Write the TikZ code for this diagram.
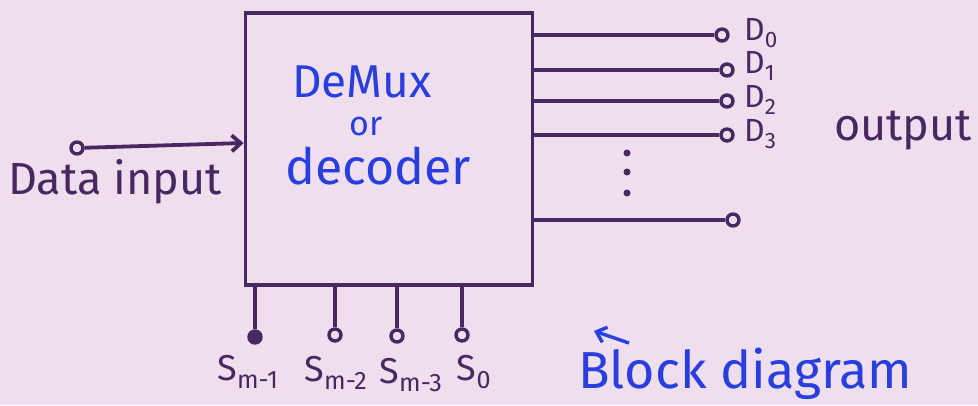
\documentclass[tikz,border=0pt]{standalone}
\usepackage{fontspec}
\setmainfont{Fira Sans}
\usetikzlibrary{arrows.meta}
\definecolor{bg}{RGB}{238,222,238}
\definecolor{ink}{RGB}{72,40,96}
\definecolor{pen}{RGB}{40,62,222}
\tikzset{
  wire/.style={draw=ink, line width=3.8pt},
  term/.style={circle, draw=ink, line width=3.4pt, fill=bg, inner sep=0pt, minimum size=12pt},
  lbl/.style={text=ink, inner sep=0pt, font=\fontsize{45}{48}\selectfont},
  blu/.style={text=pen, inner sep=0pt, font=\fontsize{48}{52}\selectfont},
}
\begin{document}
\begin{tikzpicture}[x=1pt,y=-1pt]
\fill[bg] (0,0) rectangle (978,405);
\useasboundingbox (0,0) rectangle (978,405);
% block
\node[draw=ink, line width=3.8pt, minimum width=287pt, minimum height=272pt, inner sep=0pt] (box) at (389,149) {};
\node[blu, anchor=base, font=\fontsize{46}{50}\selectfont] (t1) at (362,97) {DeMux};
\node[blu, anchor=base, font=\fontsize{34}{36}\selectfont] (t2) at (366,135) {or};
\node[blu, anchor=base, font=\fontsize{50}{54}\selectfont] (t3) at (378,184) {decoder};
% data input
\node[term] (din) at (77,148) {};
\coordinate (dinend) at (box.west |- 0,143);
\draw[wire, -{Straight Barb[length=9pt,width=16pt]}] (din) -- (dinend);
\node[lbl, anchor=base west] (dil) at (8,194) {Data input};
% outputs
\node[term] (o0) at (722,35) {};
\node[term] (o1) at (727,70) {};
\node[term] (o2) at (727,101) {};
\node[term] (o3) at (727,135) {};
\node[term] (on) at (733,220) {};
\draw[wire] (box.east |- o0) -- (o0);
\draw[wire] (box.east |- o1) -- (o1);
\draw[wire] (box.east |- o2) -- (o2);
\draw[wire] (box.east |- o3) -- (o3);
\draw[wire] (box.east |- on) -- (on);
\node[lbl, anchor=west, font=\fontsize{32}{34}\selectfont] (l0) at (744,33) {D\textsubscript{0}};
\node[lbl, anchor=west, font=\fontsize{32}{34}\selectfont] (l1) at (744,66) {D\textsubscript{1}};
\node[lbl, anchor=west, font=\fontsize{32}{34}\selectfont] (l2) at (744,100) {D\textsubscript{2}};
\node[lbl, anchor=west, font=\fontsize{32}{34}\selectfont] (l3) at (744,134) {D\textsubscript{3}};
\node[lbl, anchor=base west] (out) at (834,140) {output};
\fill[ink] (627,153) circle (3.5pt) (627,172) circle (3.5pt) (627,193) circle (3.5pt);
% selects
\node[term, fill=ink] (s1) at (255,337) {};
\node[term] (s2) at (335,335) {};
\node[term] (s3) at (397,336) {};
\node[term] (s0) at (462,335) {};
\draw[wire] (box.south -| s1) -- (s1);
\draw[wire] (box.south -| s2) -- (s2);
\draw[wire] (box.south -| s3) -- (s3);
\draw[wire] (box.south -| s0) -- (s0);
\node[lbl, font=\fontsize{36}{38}\selectfont] (sl1) at (248,372) {S\textsubscript{m-1}};
\node[lbl, font=\fontsize{36}{38}\selectfont] (sl2) at (336,373) {S\textsubscript{m-2}};
\node[lbl, font=\fontsize{36}{38}\selectfont] (sl3) at (411,375) {S\textsubscript{m-3}};
\node[lbl, font=\fontsize{36}{38}\selectfont] (sl0) at (474,372) {S\textsubscript{0}};
% caption
\coordinate (ca) at (629,343);
\coordinate (cb) at (594,331);
\draw[draw=pen, line width=3.4pt, -{Straight Barb[length=9pt,width=16pt]}] (ca) -- (cb);
\node[blu, anchor=base west, font=\fontsize{52}{56}\selectfont] (cap) at (578,388) {Block diagram};
\end{tikzpicture}
\end{document}
